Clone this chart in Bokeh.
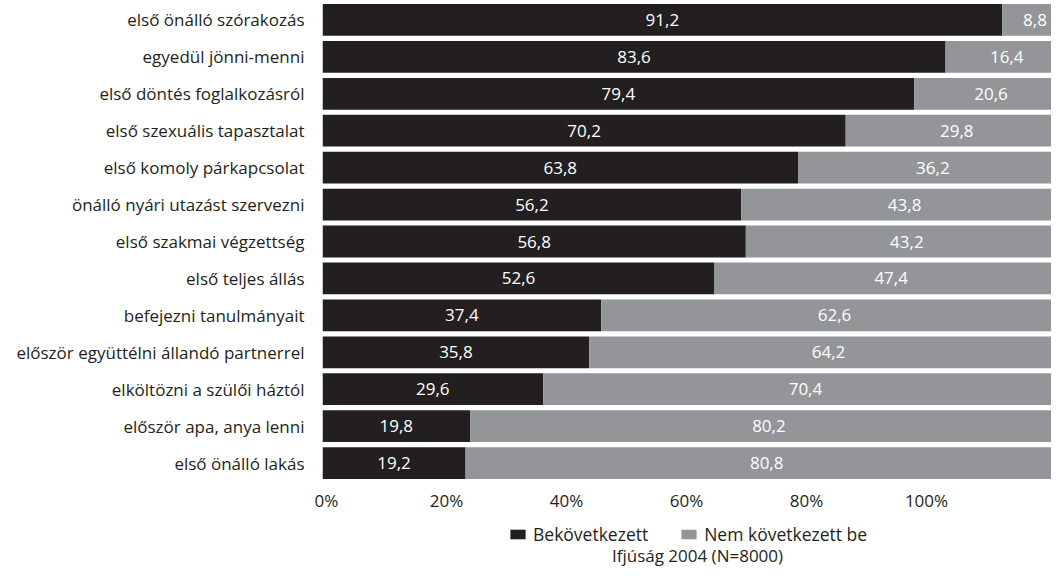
from bokeh.plotting import figure
from bokeh.layouts import column
from bokeh.models import (ColumnDataSource, FactorRange, Range1d, LinearAxis, FixedTicker,
                          PrintfTickFormatter, Legend, LegendItem, Label)
from bokeh.core.properties import value
from bokeh.embed import file_html
from bokeh.resources import INLINE

categories = ["első önálló szórakozás", "egyedül jönni-menni", "első döntés foglalkozásról",
              "első szexuális tapasztalat", "első komoly párkapcsolat",
              "önálló nyári utazást szervezni", "első szakmai végzettség", "első teljes állás",
              "befejezni tanulmányait", "először együttélni állandó partnerrel",
              "elköltözni a szülői háztól", "először apa, anya lenni", "első önálló lakás"]
happened = [91.2, 83.6, 79.4, 70.2, 63.8, 56.2, 56.8, 52.6, 37.4, 35.8, 29.6, 19.8, 19.2]
not_happened = [8.8, 16.4, 20.6, 29.8, 36.2, 43.8, 43.2, 47.4, 62.6, 64.2, 70.4, 80.2, 80.8]
series_names = ["Bekövetkezett", "Nem következett be"]
tick_values = [0, 20, 40, 60, 80, 100]
source_note = "Ifjúság 2004 (N=8000)"

DARK = "#231f20"
GREY = "#939598"
FONT = "Open Sans"

def fmt(v):
    return f"{v:.1f}".replace(".", ",")

src = ColumnDataSource(dict(
    cat=categories,
    yes=happened,
    no=not_happened,
    yes_mid=[v / 2 for v in happened],
    no_mid=[a + b / 2 for a, b in zip(happened, not_happened)],
    yes_lbl=[fmt(v) for v in happened],
    no_lbl=[fmt(v) for v in not_happened],
))

W = 1051
H1, H2 = 514, 54
LEFT = 322
FRAME_W = W - LEFT
BAR_PX = 7.453   # pixels per data unit of the bars
PCT_PX = 6.0     # pixels per percent on the printed axis
PCT_OFF = 4.0    # 0% label offset from the frame's left edge

p = figure(width=W, height=H1, output_backend="svg", toolbar_location=None,
           y_range=FactorRange(factors=categories[::-1], range_padding=0),
           x_range=Range1d(0, FRAME_W / BAR_PX),
           x_axis_location=None,
           min_border_left=LEFT, min_border_right=0, min_border_top=1, min_border_bottom=30)
p.outline_line_color = None
p.background_fill_color = "white"
p.border_fill_color = "white"
p.xgrid.visible = False
p.ygrid.visible = False

rs = p.hbar_stack(["yes", "no"], y="cat", height=0.86, color=[DARK, GREY],
                  line_color=None, source=src)

for xcol, tcol in (("yes_mid", "yes_lbl"), ("no_mid", "no_lbl")):
    p.text(x=xcol, y="cat", text=tcol, source=src, text_color="white",
           text_font=value(FONT), text_font_size="17px", text_align="center",
           text_baseline="middle")

# category axis
ya = p.yaxis[0]
ya.axis_line_color = None
ya.major_tick_line_color = None
ya.minor_tick_line_color = None
ya.major_tick_out = 0
ya.major_label_standoff = 18
ya.major_label_text_font = FONT
ya.major_label_text_font_size = "17px"
ya.major_label_text_color = DARK

# percentage axis
start = -PCT_OFF / PCT_PX
p.extra_x_ranges = {"pct": Range1d(start, start + FRAME_W / PCT_PX)}
xa = LinearAxis(x_range_name="pct", ticker=FixedTicker(ticks=tick_values),
                formatter=PrintfTickFormatter(format="%d%%"))
xa.axis_line_color = None
xa.major_tick_line_color = None
xa.minor_tick_line_color = None
xa.major_tick_out = 0
xa.major_tick_in = 0
xa.major_label_standoff = 7
xa.major_label_text_font = FONT
xa.major_label_text_font_size = "17px"
xa.major_label_text_color = DARK
p.add_layout(xa, "below")

# second strip: legend and source note (its frame is aligned with the bar chart's frame)
q = figure(width=W, height=H2, output_backend="svg", toolbar_location=None,
           x_range=Range1d(0, 1), y_range=Range1d(0, 1),
           x_axis_location=None, y_axis_location=None,
           min_border_left=LEFT, min_border_right=0, min_border_top=0, min_border_bottom=0)
q.outline_line_color = None
q.background_fill_color = "white"
q.border_fill_color = "white"
q.xgrid.visible = False
q.ygrid.visible = False

# legend key proxies (kept outside the visible range)
k_yes = q.hbar(y=[-10], left=[0], right=[1], height=1, color=DARK, line_color=None)
k_no = q.hbar(y=[-10], left=[0], right=[1], height=1, color=GREY, line_color=None)

legend = Legend(items=[LegendItem(label=series_names[0], renderers=[k_yes]),
                       LegendItem(label=series_names[1], renderers=[k_no])],
                orientation="horizontal", location=(508 - LEFT, 22),
                border_line_color=None, background_fill_alpha=0,
                padding=0, margin=0, spacing=31, label_standoff=6,
                glyph_width=19, glyph_height=12, label_height=22,
                label_text_font=FONT, label_text_font_size="17.5px",
                label_text_color=DARK)
q.add_layout(legend, "center")

note = Label(x=697 - LEFT, y=13, x_units="screen", y_units="screen", text=source_note,
             text_align="center", text_baseline="middle", text_font=FONT,
             text_font_size="17px", text_color=DARK)
q.add_layout(note)

layout = column(p, q, spacing=0)
open("out.html", "w").write(file_html(layout, INLINE))
